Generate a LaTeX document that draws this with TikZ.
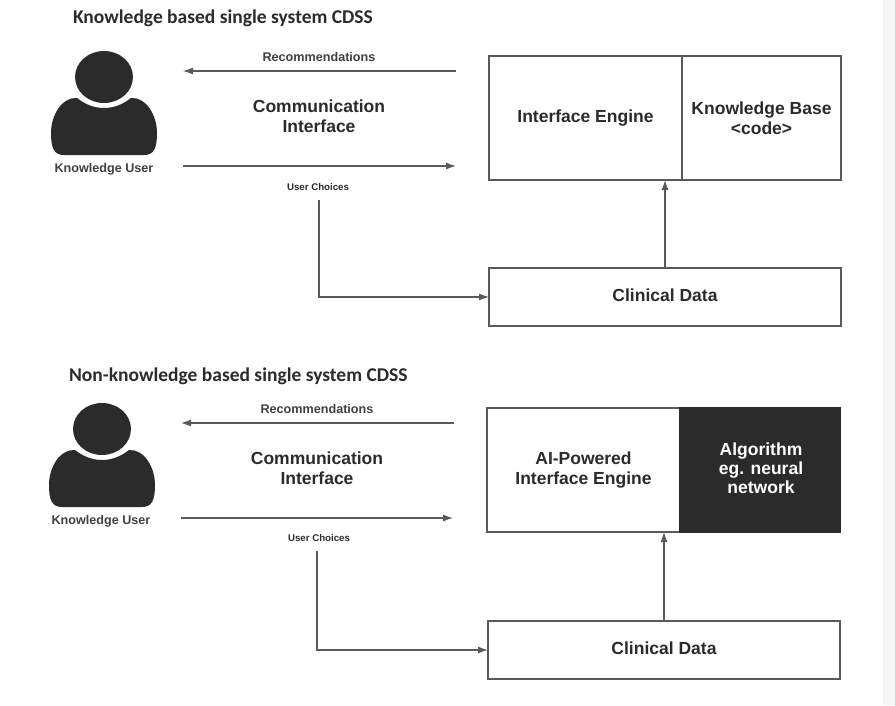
\documentclass[tikz,border=0pt]{standalone}
\usepackage{fontspec}
\setmainfont{Liberation Sans}
\newfontfamily\titlefont{Carlito}
\usetikzlibrary{positioning,arrows.meta}
\definecolor{inkdark}{HTML}{2B2B2B}
\definecolor{linegray}{HTML}{5A5A5A}
\definecolor{stripgray}{HTML}{F6F6F6}

\begin{document}
\begin{tikzpicture}[
    x=1pt,
    y=-1pt,
    node distance=0pt,
    inner sep=0pt,
    outer sep=0pt,
    line width=1.1pt,
    heading/.style={font=\titlefont\bfseries\fontsize{19.5}{22}\selectfont, text=inkdark, anchor=west},
    bigtext/.style={font=\bfseries\fontsize{17.5}{20}\selectfont, text=inkdark, align=center},
    smalltext/.style={font=\bfseries\fontsize{12.6}{15}\selectfont, text=inkdark!90, align=center},
    tinytext/.style={font=\bfseries\fontsize{9.7}{12}\selectfont, text=inkdark, align=center},
    boxwhite/.style={rectangle, draw=linegray, fill=white, minimum height=124pt, align=center, font=\bfseries\fontsize{17.5}{20}\selectfont, text=inkdark},
    boxdata/.style={boxwhite, minimum width=352pt, minimum height=58pt},
    arrow/.style={draw=linegray, -{Latex[length=10pt,width=7pt]}},
    person/.pic={
        \fill[inkdark] (0,-26) ellipse [x radius=29, y radius=26];
        \fill[inkdark] (-27,-5) .. controls (-18,2) and (-9,5) .. (0,5)
            .. controls (9,5) and (18,2) .. (27,-5)
            .. controls (42,-6) and (53,12) .. (53,30)
            .. controls (53,45) and (50,52) .. (40,52)
            -- (-40,52)
            .. controls (-50,52) and (-53,45) .. (-53,30)
            .. controls (-53,12) and (-42,-6) .. (-27,-5) -- cycle;
    }
]
\useasboundingbox (0,0) rectangle (895,705);
\fill[white] (0,0) rectangle (895,705);
\fill[stripgray] (883,0) rectangle (895,705);
% Upper system
\node[heading] (titleA) at (73,18) {Knowledge based single system CDSS};
\pic at (104,103) {person};
\node[smalltext] (userA) at (104,169) {Knowledge User};
\node[smalltext] (recoA) at (319,57) {Recommendations};
\node[bigtext] (commA) at (319,116) {Communication\\Interface};
\node[tinytext] (choiceA) at (318,187) {User Choices};
\node[boxwhite, minimum width=193pt] (engineA) at (585.5,118) {Interface Engine};
\node[boxwhite, minimum width=159pt, right=of engineA] (baseA) {Knowledge Base\\<code>};
\node[boxdata] (dataA) at (665,297) {\raisebox{3pt}{Clinical Data}};
\coordinate (recoAin) at (456,71);
\coordinate (recoAout) at (183,71);
\coordinate (choiceAout) at (183,166);
\coordinate (choiceAin) at (456,166);
\coordinate (elbowA) at (319,200);
% Arrows
\draw[arrow] (recoAin) -- (recoAout);
\draw[arrow] (choiceAout) -- (choiceAin);
\draw[arrow] (elbowA) |- (dataA.west);
\draw[arrow] (dataA.north) -- (dataA.north |- engineA.south);
% Lower system
\node[heading] (titleB) at (69,376) {Non-knowledge based single system CDSS};
\pic at (102,455) {person};
\node[smalltext] (userB) at (101,521) {Knowledge User};
\node[smalltext] (recoB) at (317,409) {Recommendations};
\node[bigtext] (commB) at (317,468) {Communication\\Interface};
\node[tinytext] (choiceB) at (319,538) {User Choices};
\node[boxwhite, minimum width=193pt] (engineB) at (583.5,470) {AI-Powered\\Interface Engine};
\node[boxwhite, minimum width=160pt, right=of engineB, draw=inkdark, fill=inkdark] (algoB) {};
\node[bigtext, text=white, font=\fontsize{17.5}{19}\selectfont\bfseries] (algoText) at ([xshift=1pt,yshift=2pt]algoB.center) {Algorithm\\eg. neural\\network};
\node[boxdata] (dataB) at (664,650) {\raisebox{3pt}{Clinical Data}};
\coordinate (recoBin) at (454,423);
\coordinate (recoBout) at (181,423);
\coordinate (choiceBout) at (181,518);
\coordinate (choiceBin) at (453,518);
\coordinate (elbowB) at (317,551);
% Arrows
\draw[arrow] (recoBin) -- (recoBout);
\draw[arrow] (choiceBout) -- (choiceBin);
\draw[arrow] (elbowB) |- (dataB.west);
\draw[arrow] (dataB.north) -- (dataB.north |- engineB.south);
\end{tikzpicture}
\end{document}
